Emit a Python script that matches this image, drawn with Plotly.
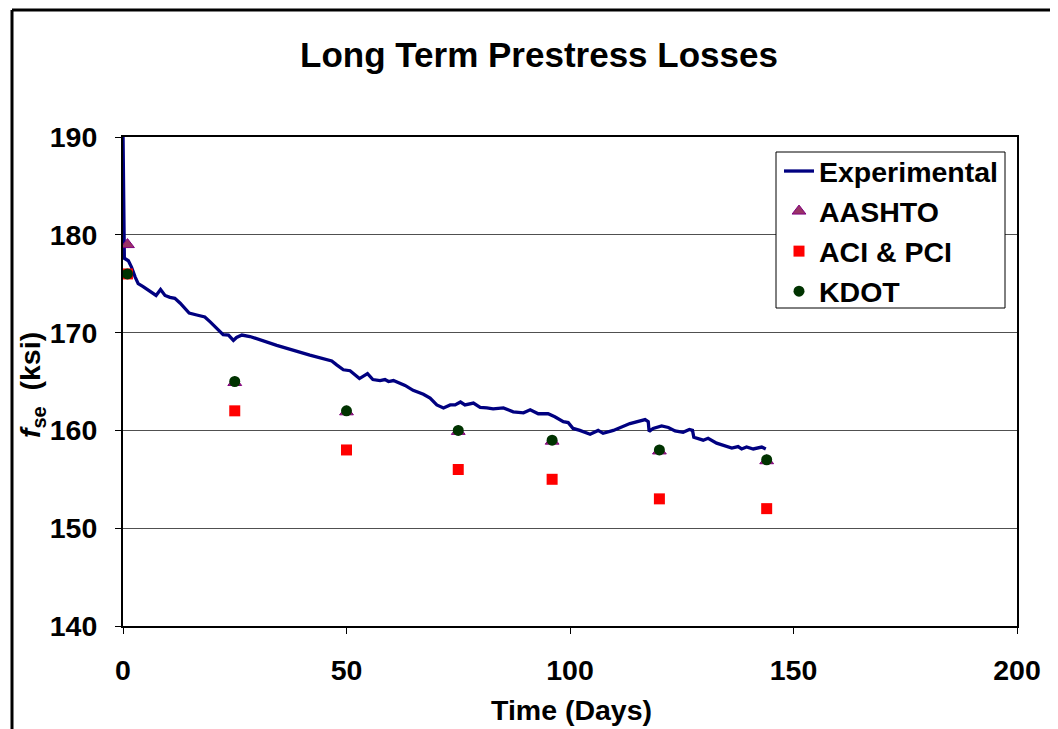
import plotly.graph_objects as go

# Experimental curve (Days, ksi)
exp_days = [0.0, 0.1, 0.3, 1.2, 1.9, 2.7, 3.4, 4.5, 6.0, 7.4, 8.4, 9.4, 10.5, 11.6, 12.8, 13.9,
            14.8, 16.5, 18.3, 19.5, 21.0, 22.4, 23.6, 24.7, 25.4, 26.6, 28.4, 34.4, 41.8, 46.7,
            47.8, 49.3, 50.8, 51.9, 52.9, 54.7, 55.9, 57.5, 58.6, 59.4, 60.5, 63.1, 64.9, 67.2,
            68.7, 70.2, 71.7, 73.2, 74.3, 75.5, 76.5, 78.4, 79.9, 81.4, 82.8, 85.1, 87.3, 89.6,
            91.1, 92.9, 95.1, 96.6, 98.5, 99.6, 100.7, 102.2, 104.5, 106.3, 107.4, 109.7, 113.4,
            116.8, 117.5, 117.7, 118.6, 120.5, 122.0, 123.5, 125.3, 126.7, 127.4, 127.7, 129.1,
            129.8, 130.9, 132.8, 136.2, 137.6, 138.4, 139.5, 141.0, 142.9, 143.8]
exp_fse = [190.5, 184.0, 177.6, 177.35, 176.7, 175.7, 175.0, 174.7, 174.2, 173.8, 174.4, 173.8,
           173.6, 173.5, 173.0, 172.5, 172.0, 171.8, 171.6, 171.1, 170.4, 169.8, 169.75, 169.2,
           169.5, 169.75, 169.6, 168.7, 167.7, 167.1, 166.7, 166.2, 166.1, 165.7, 165.3, 165.8,
           165.2, 165.1, 165.2, 165.0, 165.1, 164.6, 164.1, 163.7, 163.3, 162.6, 162.3, 162.6,
           162.6, 162.9, 162.6, 162.8, 162.35, 162.3, 162.2, 162.3, 161.9, 161.8, 162.1, 161.7,
           161.7, 161.4, 160.9, 160.8, 160.2, 160.0, 159.6, 160.0, 159.7, 160.0, 160.7, 161.1,
           160.9, 159.9, 160.2, 160.45, 160.3, 159.95, 159.8, 160.1, 160.0, 159.3, 159.1, 159.0,
           159.2, 158.7, 158.2, 158.35, 158.1, 158.3, 158.1, 158.3, 158.1]

pred_days = [1, 25, 50, 75, 96, 120, 144]
aashto = [179, 164.9, 161.9, 159.9, 158.9, 157.9, 156.9]
aci_pci = [176, 162, 158, 156, 155, 153, 152]
kdot = [176, 165, 162, 160, 159, 158, 157]

x_ticks = [0, 50, 100, 150, 200]
y_ticks = [140, 150, 160, 170, 180, 190]

FONT = "Liberation Sans, Arial, sans-serif"
FS = 28.5


def px_x(p):
    return (p - 123) / 894


def px_y(p):
    return 1 - (p - 137) / 489


fig = go.Figure()
fig.add_trace(go.Scatter(x=exp_days, y=exp_fse, mode="lines", name="Experimental",
                         line=dict(color="#000080", width=3.3), legendgroup="a"))
fig.add_trace(go.Scatter(x=pred_days, y=aashto, mode="markers", name="AASHTO",
                         marker=dict(symbol="triangle-up", size=12, color="#993366",
                                     line=dict(color="#800080", width=1)), legendgroup="b"))
fig.add_trace(go.Scatter(x=pred_days, y=aci_pci, mode="markers", name="ACI & PCI",
                         marker=dict(symbol="square", size=11, color="#FF0000",
                                     line=dict(width=0)), legendgroup="c"))
fig.add_trace(go.Scatter(x=pred_days, y=kdot, mode="markers", name="KDOT",
                         marker=dict(symbol="circle", size=11, color="#003300",
                                     line=dict(width=0)), legendgroup="d"))

# page is offset by 8px body margin -> figure 1050x721, plot area at page px 123..1017, 137..626
fig.update_layout(
    width=1050, height=721,
    margin=dict(l=115, r=41, t=129, b=103),
    paper_bgcolor="white", plot_bgcolor="white",
    font=dict(family=FONT, color="black", size=FS, weight="bold"),
    title=dict(text="Long Term Prestress Losses", x=(539 - 8) / 1050, xref="container",
               xanchor="center", y=1 - (55 - 8) / 721, yref="container", yanchor="middle",
               font=dict(family=FONT, size=35, weight="bold", color="black")),
    legend=dict(x=px_x(779), y=px_y(146), xanchor="left", yanchor="top",
                bgcolor="rgba(0,0,0,0)", borderwidth=0,
                font=dict(family=FONT, size=FS, weight="bold", color="black"),
                tracegroupgap=0, traceorder="grouped"),
    showlegend=True,
)
fig.update_xaxes(range=[0, 200], tickvals=x_ticks, ticktext=[str(v) for v in x_ticks],
                 showline=True, linecolor="black", linewidth=2, mirror=True,
                 ticks="outside", ticklen=6, tickcolor="black", tickwidth=1,
                 showgrid=False, zeroline=False, ticklabelstandoff=12,
                 tickfont=dict(family=FONT, size=FS, weight="bold"), layer="below traces")
fig.update_yaxes(range=[140, 190], tickvals=y_ticks, ticktext=[str(v) for v in y_ticks],
                 showline=True, linecolor="black", linewidth=2, mirror=True,
                 ticks="outside", ticklen=6, tickcolor="black", tickwidth=1,
                 showgrid=True, gridcolor="#505050", gridwidth=1, zeroline=False,
                 ticklabelstandoff=12,
                 tickfont=dict(family=FONT, size=FS, weight="bold"), layer="below traces")

fig.add_annotation(text="Time (Days)", xref="paper", yref="paper",
                   x=px_x(571), y=px_y(710), xanchor="center", yanchor="middle",
                   showarrow=False, font=dict(family=FONT, size=FS, weight="bold"))
fig.add_annotation(text="<i>f</i><sub>se</sub>  (ksi)", xref="paper", yref="paper",
                   x=px_x(32), y=px_y(385), xanchor="center", yanchor="middle",
                   textangle=-90, showarrow=False, font=dict(family=FONT, size=FS, weight="bold"))

# legend box
fig.add_shape(type="rect", xref="paper", yref="paper", x0=px_x(776), x1=px_x(1005),
              y0=px_y(308), y1=px_y(152), fillcolor="white",
              line=dict(color="black", width=1), layer="above")

# outer chart frame
fig.add_shape(type="line", xref="paper", yref="paper", x0=px_x(12), x1=px_x(12),
              y0=px_y(740), y1=px_y(10), line=dict(color="black", width=3))
fig.add_shape(type="line", xref="paper", yref="paper", x0=px_x(12), x1=px_x(1070),
              y0=px_y(10), y1=px_y(10), line=dict(color="black", width=3))

fig.write_html("out.html")
